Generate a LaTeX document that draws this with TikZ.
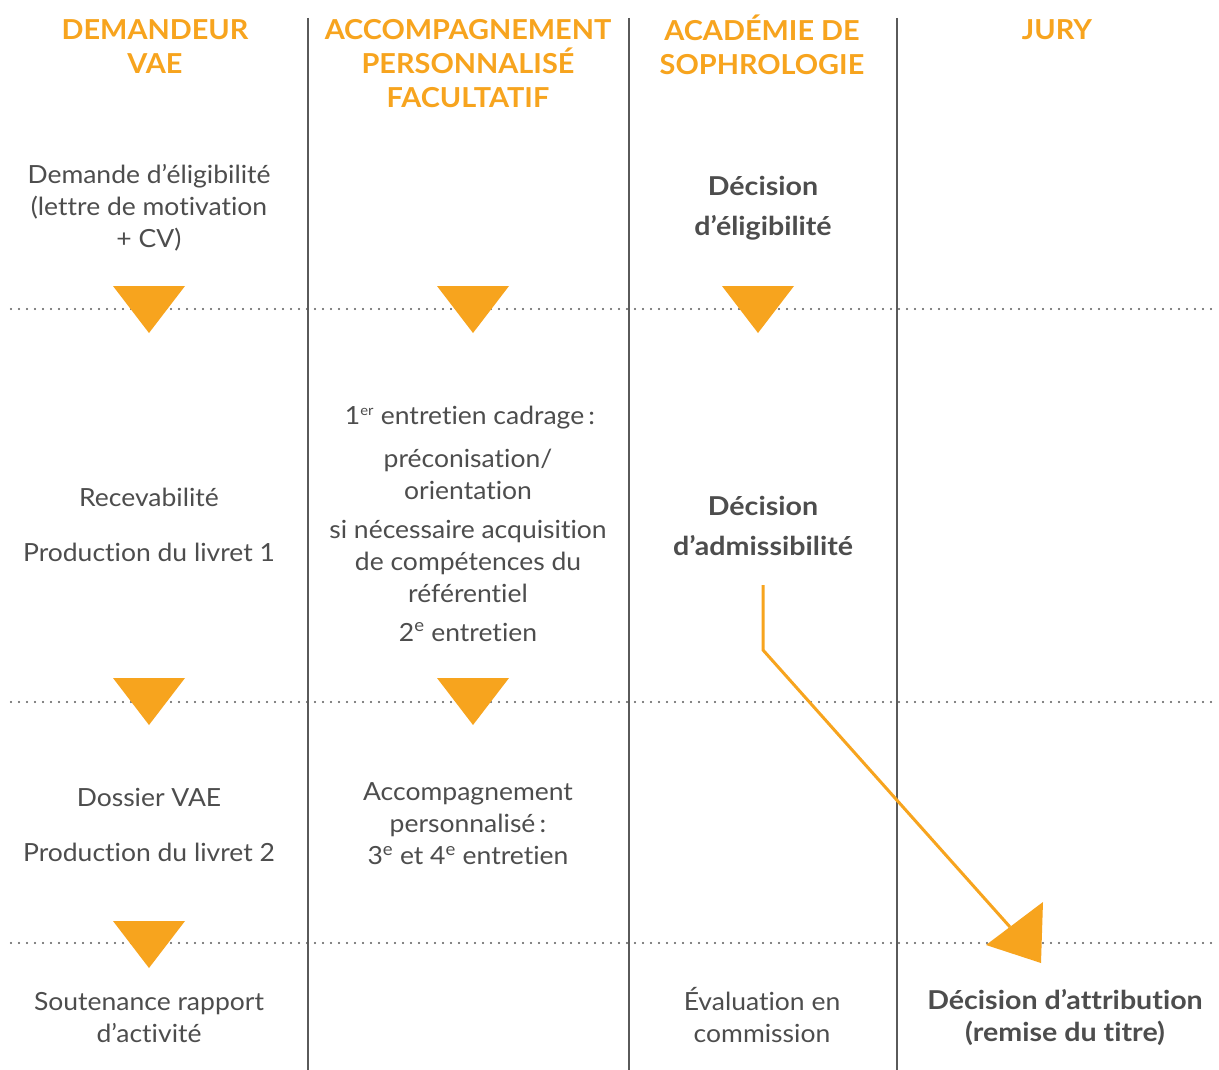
\documentclass[tikz,border=0pt]{standalone}
\usepackage{fontspec}
\setmainfont{Lato}[Ligatures=NoCommon]
\newfontfamily\bodyf{Lato}[FakeStretch=1.06,Ligatures=NoCommon]
\newfontfamily\boldf{Lato}[FakeStretch=1.1,Ligatures=NoCommon]
\newfontfamily\headf{Lato}[FakeStretch=1.05,Ligatures=NoCommon]
\definecolor{orng}{RGB}{247,164,30}
\definecolor{txt}{RGB}{77,77,77}
\definecolor{rule}{RGB}{90,90,90}
\begin{document}
\begin{tikzpicture}[x=1pt,y=-1pt,
  head/.style={text=orng,font=\headf\fontsize{27.5}{34}\selectfont\bfseries,align=center,inner sep=0pt},
  body/.style={text=txt,font=\bodyf\fontsize{25}{32}\selectfont,align=center,inner sep=0pt},
  bbody/.style={text=txt,font=\boldf\fontsize{26}{40}\selectfont\bfseries,align=center,inner sep=0pt},
  vline/.style={draw=rule,line width=1.4pt},
  dotline/.style={draw=rule,line width=2.2pt,line cap=round,dash pattern=on 0pt off 8pt},
  tri/.style={fill=orng,draw=none},
  flow/.style={draw=orng,line width=3pt}]
\useasboundingbox (0,0) rectangle (1219,1070);
\fill[white] (0,0) rectangle (1219,1070);
% column rules
\foreach \x in {308,629,897} \draw[vline] (\x,18) -- (\x,1070);
% dotted rows
\foreach \y in {309,702,943} \draw[dotline] (11,\y) -- (1215,\y);
% headers
\node[head] (h1) at (155,47) {DEMANDEUR\\VAE};
\node[head] (h2) at (468,64) {ACCOMPAGNEMENT\\PERSONNALISÉ\\FACULTATIF};
\node[head] (h3) at (762,45) {ACADÉMIE DE\\SOPHROLOGIE};
\node[head] (h4) at (1057,30) {JURY};
% column 1
\node[body] (c1a) at (149,208) {Demande d’éligibilité\\(lettre de motivation\\+ CV)};
\node[body] (c1b) at (149,497) {Recevabilité};
\node[body] (c1c) at (149,552) {Production du livret 1};
\node[body] (c1d) at (149,797) {Dossier VAE};
\node[body] (c1e) at (149,852) {Production du livret 2};
\node[body] (c1f) at (149,1018) {Soutenance rapport\\d’activité};
% column 2
\node[body] (c2a) at (470,418) {1\textsuperscript{\fontsize{14}{14}\selectfont er} entretien cadrage\,:};
\node[body] (c2b) at (468,474) {préconisation/\\orientation};
\node[body] (c2c) at (468,561) {si nécessaire acquisition\\de compétences du\\référentiel};
\node[body] (c2d) at (468,632) {2\textsuperscript{e} entretien};
\node[body] (c2e) at (468,824) {Accompagnement\\personnalisé\,:\\3\textsuperscript{e} et 4\textsuperscript{e} entretien};
% column 3
\node[bbody] (c3a) at (763,208) {Décision\\d’éligibilité};
\node[bbody] (c3b) at (763,526) {Décision\\d’admissibilité};
\node[body] (c3c) at (762,1015) {Évaluation en\\commission};
% column 4
\node[bbody,font=\boldf\fontsize{26}{32}\selectfont\bfseries] (c4a) at (1065,1018) {Décision d’attribution\\(remise du titre)};
% triangles
\foreach \cx/\ty in {149/286,473/286,758/286,149/678,473/678,149/921}
  \fill[tri] (\cx-36,\ty) -- (\cx+36,\ty) -- (\cx,\ty+47) -- cycle;
% flow arrow
\coordinate (a0) at (763,585);
\coordinate (a1) at (763,650);
\coordinate (a2) at (1010,927);
\draw[flow] (a0) -- (a1) -- (a2);
\fill[tri] (986,945) -- (1043,902) -- (1041,963) -- cycle;
\end{tikzpicture}
\end{document}
